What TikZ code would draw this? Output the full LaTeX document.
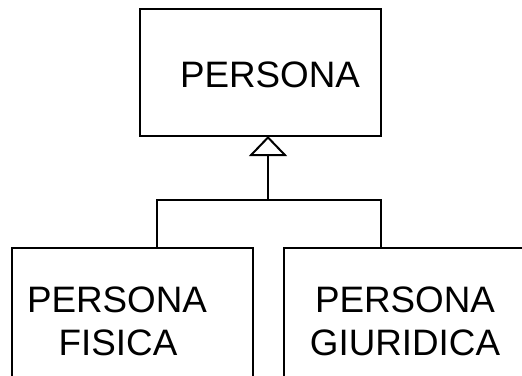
\documentclass[tikz,border=0pt]{standalone}
\usepackage{fontspec}
\setmainfont{Liberation Sans}
\usetikzlibrary{arrows.meta}
\begin{document}
\begin{tikzpicture}[x=1pt,y=-1pt,
  boxstyle/.style={draw,line width=2pt,rectangle,inner sep=0pt},
  lbl/.style={font=\fontsize{36.8}{43}\selectfont,inner sep=0pt,anchor=base},
  link/.style={line width=2pt}]
\useasboundingbox (0,0) rectangle (522,375);
% boxes
\node[boxstyle,minimum width=241pt,minimum height=127pt] (persona) at (260.5,72.5) {};
\node[boxstyle,minimum width=241pt,minimum height=150pt] (fisica) at (132.5,323) {};
\node[boxstyle,minimum width=260pt,minimum height=150pt] (giuridica) at (414,323) {};
% texts
\node[lbl] (t1) at (270,87) {PERSONA};
\node[lbl] (t2) at (117,312) {PERSONA};
\node[lbl] (t3) at (118,355) {FISICA};
\node[lbl] (t4) at (405,312) {PERSONA};
\node[lbl] (t5) at (405,355) {GIURIDICA};
% connectors
\coordinate (hub) at (268,200);
\coordinate (lft) at (157,200);
\coordinate (rgt) at (381,200);
\coordinate (top) at (268,136);
\draw[link] (157,248) -- (lft) -- (rgt) -- (381,248);
\draw[link,-{Triangle[open,width=38pt,length=20pt]}] (hub) -- (top);
\end{tikzpicture}
\end{document}
